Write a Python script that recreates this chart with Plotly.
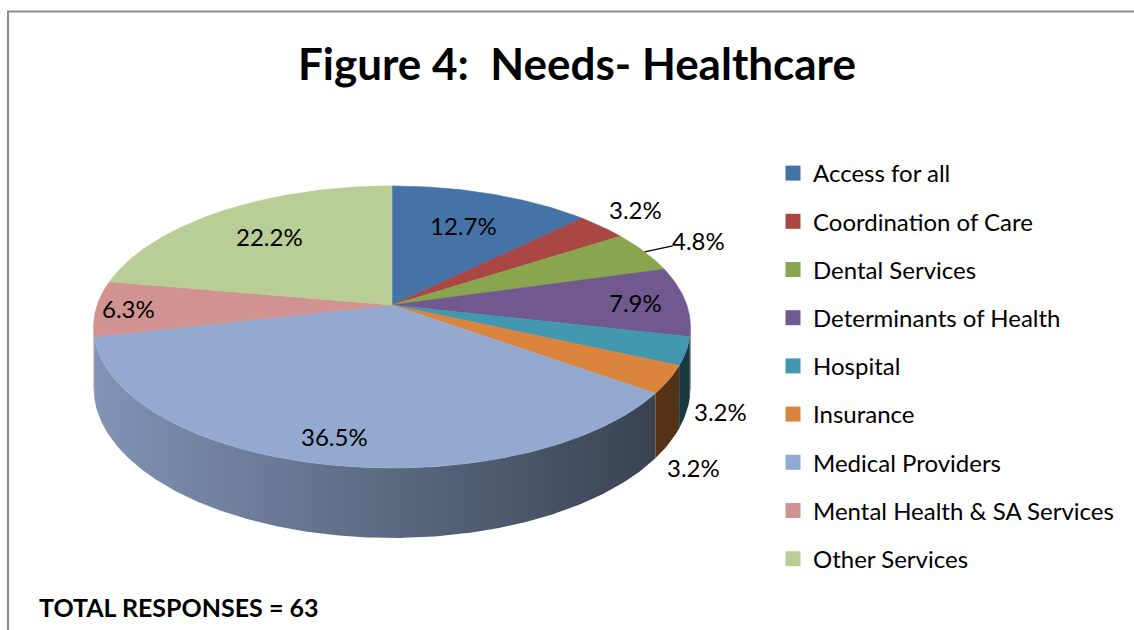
import numpy as np
import plotly.graph_objects as go

# Survey responses per healthcare need
categories = [
    "Access for all",
    "Coordination of Care",
    "Dental Services",
    "Determinants of Health",
    "Hospital",
    "Insurance",
    "Medical Providers",
    "Mental Health & SA Services",
    "Other Services",
]
responses = [8, 2, 3, 5, 2, 2, 23, 4, 14]
slice_colors = ["#4572A7", "#AA4643", "#89A54E", "#71588F", "#4198AF",
                "#DB843D", "#93A9CF", "#D19392", "#B9CD96"]

# Label placement per slice: radial factor and drop toward the base
label_r = [0.69, 1.18, 1.23, 0.83, 1.11, 1.08, 0.85, 0.89, 0.70]
label_z = [0.0, -0.08, 0.0, 0.0, 0.88, 1.27, 0.0, 0.0, 0.0]

title_text = "Figure 4:\u00a0 Needs- Healthcare"
FONT = "Lato"

# --- 3D pie geometry (pixel space, perspective-tilted disc) ---
CX, CY = 392.0, 305.0      # projected centre of the disc
A, B, K = 294.8, 137.6, 0.156
H = 59.0                   # disc thickness
total = sum(responses)


def project(theta_deg, r=1.0, z=0.0):
    t = np.radians(theta_deg)
    u = r * np.sin(t)
    v = r * np.cos(t)
    w = 1 + K * v
    return CX + A * u / w, CY - B * v / w + z * H / w


def shade(hex_color, f):
    h = hex_color.lstrip("#")
    r, g, b = (int(h[i:i + 2], 16) for i in (0, 2, 4))
    return "rgb(%d,%d,%d)" % (r * f, g * f, b * f)


def arc(a, b):
    n = max(int(abs(b - a) * 2), 2)
    return np.linspace(a, b, n)


bounds = np.concatenate([[0], np.cumsum(responses)]) / total * 360.0
theta_r = np.degrees(np.arccos(-K))
theta_l = 360.0 - theta_r
x_left, x_right = project(theta_l)[0], project(theta_r)[0]

fig = go.Figure()

# Visible rim of the disc
for i, c in enumerate(slice_colors):
    a, b = max(bounds[i], theta_r), min(bounds[i + 1], theta_l)
    if a >= b:
        continue
    th = arc(a, b)
    tx, ty = project(th)
    bx, by = project(th[::-1], z=1.0)
    fig.add_trace(go.Scatter(
        x=np.concatenate([tx, bx, tx[:1]]), y=np.concatenate([ty, by, ty[:1]]),
        mode="lines", fill="toself", line=dict(width=0),
        fillgradient=dict(type="horizontal", start=x_left, stop=x_right,
                          colorscale=[[0, shade(c, 0.88)], [0.5, shade(c, 0.62)],
                                      [1, shade(c, 0.37)]]),
        hoverinfo="skip", showlegend=False))

# Top faces
for i, c in enumerate(slice_colors):
    th = arc(bounds[i], bounds[i + 1])
    tx, ty = project(th)
    fig.add_trace(go.Scatter(
        x=np.concatenate([[CX], tx, [CX]]), y=np.concatenate([[CY], ty, [CY]]),
        mode="lines", fill="toself", fillcolor=c, line=dict(color=c, width=0.6),
        name=categories[i], hoverinfo="name", showlegend=False))

# Legend entries
for cat, c in zip(categories, slice_colors):
    fig.add_trace(go.Scatter(
        x=[None], y=[None], mode="markers", name=cat, legendgroup=cat,
        marker=dict(symbol="square", size=15, color=c, line=dict(width=0))))

# Percentage labels
annotations = []
for i, v in enumerate(responses):
    mid = (bounds[i] + bounds[i + 1]) / 2
    lx, ly = project(mid, label_r[i], label_z[i])
    annotations.append(dict(x=lx, y=ly, xref="x", yref="y", showarrow=False,
                            text=f"{100 * v / total:.1f}%",
                            font=dict(family=FONT, size=24, color="black")))

# Leader line for the small dental slice
mid = (bounds[2] + bounds[3]) / 2
p0, p1 = project(mid, 1.0), project(mid, 1.12)
fig.add_trace(go.Scatter(x=[p0[0], p1[0]], y=[p0[1], p1[1]], mode="lines",
                         line=dict(color="black", width=1.3),
                         hoverinfo="skip", showlegend=False))

annotations.append(dict(x=577, y=63, xref="x", yref="y", showarrow=False,
                        text=title_text,
                        font=dict(family=FONT, size=44, color="black", weight="bold")))
annotations.append(dict(x=37, y=607, xref="x", yref="y", showarrow=False,
                        xanchor="left", text=f"TOTAL RESPONSES = {total}",
                        font=dict(family=FONT, size=25, color="black", weight="bold")))

fig.update_layout(
    width=1134, height=630,
    margin=dict(l=0, r=0, t=0, b=0),
    paper_bgcolor="white", plot_bgcolor="white",
    xaxis=dict(range=[0, 1134], visible=False, fixedrange=True),
    yaxis=dict(range=[630, 0], visible=False, fixedrange=True),
    annotations=annotations,
    shapes=[dict(type="rect", xref="x", yref="y", x0=8, y0=11.5, x1=1140, y1=640,
                 line=dict(color="#8a8a8a", width=2), fillcolor="rgba(0,0,0,0)")],
    legend=dict(x=773 / 1134, y=1 - 151 / 630, xanchor="left", yanchor="top",
                font=dict(family=FONT, size=24, color="black"),
                tracegroupgap=14, itemsizing="trace", bgcolor="rgba(0,0,0,0)"),
)

fig.write_html("out.html")
